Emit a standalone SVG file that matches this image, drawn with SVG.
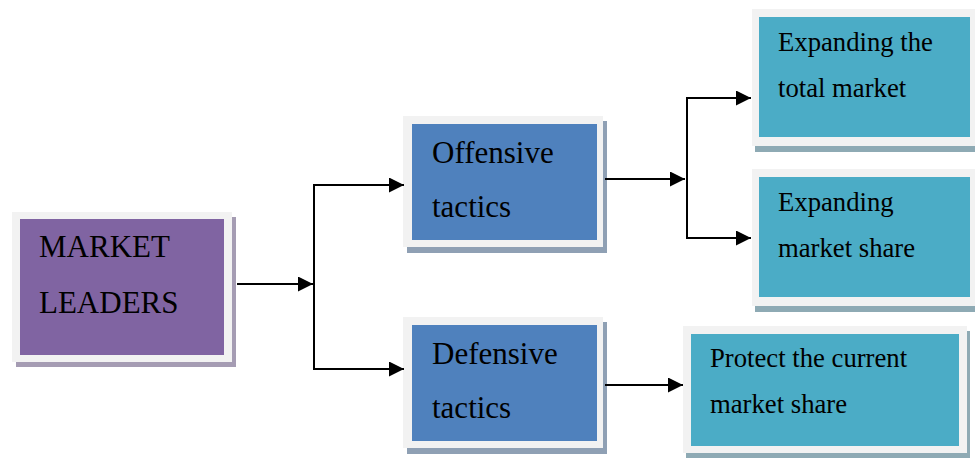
<svg xmlns="http://www.w3.org/2000/svg" width="975" height="458" viewBox="0 0 975 458">
  <defs>
    <marker id="arrow" markerUnits="userSpaceOnUse" markerWidth="15" markerHeight="15" refX="15" refY="7.5" orient="auto">
      <path d="M0,0 L15,7.5 L0,15 z" fill="#000"/>
    </marker>
  </defs>
  <style>
    .frame { fill: #f2f2f2; }
    .sh-purple { fill: #a59cb3; }
    .sh-blue { fill: #8fa0b4; }
    .sh-teal { fill: #8eaab4; }
    .purple { fill: #8064a2; }
    .blue { fill: #4f81bd; }
    .teal { fill: #4bacc6; }
    .big { font-family: "Liberation Serif", "Times New Roman", serif; font-size: 31px; fill: #000; }
    .small { font-family: "Liberation Serif", "Times New Roman", serif; font-size: 26.7px; fill: #000; }
    .conn { fill: none; stroke: #000; stroke-width: 2; }
  </style>
  <rect width="975" height="458" fill="#fff"/>

  <g id="market-leaders">
    <rect class="sh-purple" x="16" y="217" width="220" height="150"/>
    <rect class="frame" x="12" y="212" width="220" height="150"/>
    <rect class="purple" x="20" y="219" width="204" height="136"/>
    <text class="big" x="39" y="257">MARKET</text>
    <text class="big" x="39" y="313">LEADERS</text>
  </g>

  <g id="offensive-tactics">
    <rect class="sh-blue" x="407" y="121" width="200" height="132"/>
    <rect class="frame" x="403" y="116" width="200" height="131"/>
    <rect class="blue" x="412" y="124" width="185" height="116"/>
    <text class="big" x="432" y="163">Offensive</text>
    <text class="big" x="432" y="217">tactics</text>
  </g>

  <g id="defensive-tactics">
    <rect class="sh-blue" x="407" y="322" width="200" height="132"/>
    <rect class="frame" x="403" y="317" width="200" height="131"/>
    <rect class="blue" x="412" y="325" width="185" height="116"/>
    <text class="big" x="432" y="364">Defensive</text>
    <text class="big" x="432" y="418">tactics</text>
  </g>

  <g id="expanding-total-market">
    <rect class="sh-teal" x="755" y="14" width="223" height="138"/>
    <rect class="frame" x="752" y="9" width="223" height="137"/>
    <rect class="teal" x="759" y="17" width="211" height="120"/>
    <text class="small" x="778" y="51">Expanding the</text>
    <text class="small" x="778" y="97">total market</text>
  </g>

  <g id="expanding-market-share">
    <rect class="sh-teal" x="755" y="174" width="223" height="138"/>
    <rect class="frame" x="752" y="169" width="223" height="137"/>
    <rect class="teal" x="759" y="177" width="211" height="120"/>
    <text class="small" x="778" y="211">Expanding</text>
    <text class="small" x="778" y="257">market share</text>
  </g>

  <g id="protect-market-share">
    <rect class="sh-teal" x="686" y="331" width="284" height="128"/>
    <rect class="frame" x="683" y="326" width="284" height="127"/>
    <rect class="teal" x="691" y="334" width="268" height="112"/>
    <text class="small" x="710" y="367">Protect the current</text>
    <text class="small" x="710" y="413">market share</text>
  </g>

  <g id="connectors">
    <path class="conn" d="M237,284 H313" marker-end="url(#arrow)"/>
    <path class="conn" d="M404,185 H314 V369 H404" />
    <path class="conn" d="M314,185 H404" marker-end="url(#arrow)"/>
    <path class="conn" d="M314,369 H404" marker-end="url(#arrow)"/>
    <path class="conn" d="M605,179 H685" marker-end="url(#arrow)"/>
    <path class="conn" d="M751,98 H687 V238 H751"/>
    <path class="conn" d="M687,98 H751" marker-end="url(#arrow)"/>
    <path class="conn" d="M687,238 H751" marker-end="url(#arrow)"/>
    <path class="conn" d="M605,385 H683" marker-end="url(#arrow)"/>
  </g>
</svg>
